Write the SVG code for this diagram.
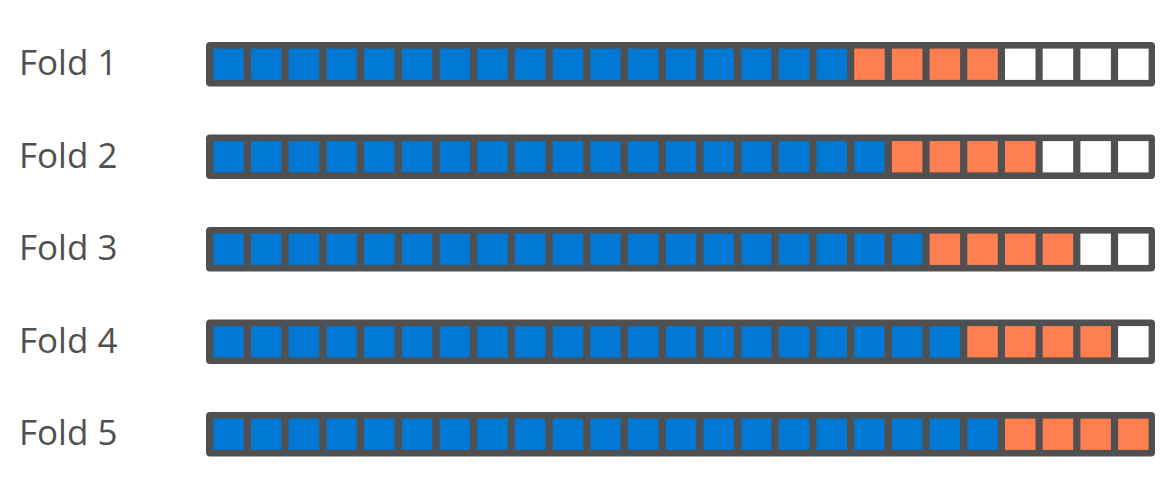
<svg xmlns="http://www.w3.org/2000/svg" width="1169" height="482" viewBox="0 0 1169 482">
<style>
.lbl{font-family:"Open Sans","Noto Sans",sans-serif;font-size:35px;fill:#505050}
.bar{fill:#505050}
.b{fill:#0078D4}
.o{fill:#FF7F50}
.w{fill:#FFFFFF}
.sq rect{y:6.6px;width:30.5px;height:31.3px}
</style>
<rect width="1169" height="482" fill="#fff"/>
<g id="fold1" transform="translate(0,42)">
<text class="lbl" x="19" y="33">Fold 1</text>
<rect class="bar" x="206" y="0" width="949" height="44.5" rx="4"/>
<g class="sq">
<rect class="b" x="213.3" y="6.6" width="30.5" height="31.3"/><rect class="b" x="251" y="6.6" width="30.5" height="31.3"/><rect class="b" x="288.7" y="6.6" width="30.5" height="31.3"/><rect class="b" x="326.4" y="6.6" width="30.5" height="31.3"/><rect class="b" x="364.1" y="6.6" width="30.5" height="31.3"/><rect class="b" x="401.8" y="6.6" width="30.5" height="31.3"/><rect class="b" x="439.5" y="6.6" width="30.5" height="31.3"/><rect class="b" x="477.2" y="6.6" width="30.5" height="31.3"/><rect class="b" x="514.9" y="6.6" width="30.5" height="31.3"/><rect class="b" x="552.6" y="6.6" width="30.5" height="31.3"/><rect class="b" x="590.3" y="6.6" width="30.5" height="31.3"/><rect class="b" x="628" y="6.6" width="30.5" height="31.3"/><rect class="b" x="665.7" y="6.6" width="30.5" height="31.3"/><rect class="b" x="703.4" y="6.6" width="30.5" height="31.3"/><rect class="b" x="741.1" y="6.6" width="30.5" height="31.3"/><rect class="b" x="778.8" y="6.6" width="30.5" height="31.3"/><rect class="b" x="816.5" y="6.6" width="30.5" height="31.3"/>
<rect class="o" x="854.2" y="6.6" width="30.5" height="31.3"/><rect class="o" x="891.9" y="6.6" width="30.5" height="31.3"/><rect class="o" x="929.6" y="6.6" width="30.5" height="31.3"/><rect class="o" x="967.3" y="6.6" width="30.5" height="31.3"/>
<rect class="w" x="1005" y="6.6" width="30.5" height="31.3"/><rect class="w" x="1042.7" y="6.6" width="30.5" height="31.3"/><rect class="w" x="1080.4" y="6.6" width="30.5" height="31.3"/><rect class="w" x="1118.1" y="6.6" width="30.5" height="31.3"/>
</g>
</g>
<g id="fold2" transform="translate(0,134.5)">
<text class="lbl" x="19" y="33">Fold 2</text>
<rect class="bar" x="206" y="0" width="949" height="44.5" rx="4"/>
<g class="sq">
<rect class="b" x="213.3" y="6.6" width="30.5" height="31.3"/><rect class="b" x="251" y="6.6" width="30.5" height="31.3"/><rect class="b" x="288.7" y="6.6" width="30.5" height="31.3"/><rect class="b" x="326.4" y="6.6" width="30.5" height="31.3"/><rect class="b" x="364.1" y="6.6" width="30.5" height="31.3"/><rect class="b" x="401.8" y="6.6" width="30.5" height="31.3"/><rect class="b" x="439.5" y="6.6" width="30.5" height="31.3"/><rect class="b" x="477.2" y="6.6" width="30.5" height="31.3"/><rect class="b" x="514.9" y="6.6" width="30.5" height="31.3"/><rect class="b" x="552.6" y="6.6" width="30.5" height="31.3"/><rect class="b" x="590.3" y="6.6" width="30.5" height="31.3"/><rect class="b" x="628" y="6.6" width="30.5" height="31.3"/><rect class="b" x="665.7" y="6.6" width="30.5" height="31.3"/><rect class="b" x="703.4" y="6.6" width="30.5" height="31.3"/><rect class="b" x="741.1" y="6.6" width="30.5" height="31.3"/><rect class="b" x="778.8" y="6.6" width="30.5" height="31.3"/><rect class="b" x="816.5" y="6.6" width="30.5" height="31.3"/><rect class="b" x="854.2" y="6.6" width="30.5" height="31.3"/>
<rect class="o" x="891.9" y="6.6" width="30.5" height="31.3"/><rect class="o" x="929.6" y="6.6" width="30.5" height="31.3"/><rect class="o" x="967.3" y="6.6" width="30.5" height="31.3"/><rect class="o" x="1005" y="6.6" width="30.5" height="31.3"/>
<rect class="w" x="1042.7" y="6.6" width="30.5" height="31.3"/><rect class="w" x="1080.4" y="6.6" width="30.5" height="31.3"/><rect class="w" x="1118.1" y="6.6" width="30.5" height="31.3"/>
</g>
</g>
<g id="fold3" transform="translate(0,227)">
<text class="lbl" x="19" y="33">Fold 3</text>
<rect class="bar" x="206" y="0" width="949" height="44.5" rx="4"/>
<g class="sq">
<rect class="b" x="213.3" y="6.6" width="30.5" height="31.3"/><rect class="b" x="251" y="6.6" width="30.5" height="31.3"/><rect class="b" x="288.7" y="6.6" width="30.5" height="31.3"/><rect class="b" x="326.4" y="6.6" width="30.5" height="31.3"/><rect class="b" x="364.1" y="6.6" width="30.5" height="31.3"/><rect class="b" x="401.8" y="6.6" width="30.5" height="31.3"/><rect class="b" x="439.5" y="6.6" width="30.5" height="31.3"/><rect class="b" x="477.2" y="6.6" width="30.5" height="31.3"/><rect class="b" x="514.9" y="6.6" width="30.5" height="31.3"/><rect class="b" x="552.6" y="6.6" width="30.5" height="31.3"/><rect class="b" x="590.3" y="6.6" width="30.5" height="31.3"/><rect class="b" x="628" y="6.6" width="30.5" height="31.3"/><rect class="b" x="665.7" y="6.6" width="30.5" height="31.3"/><rect class="b" x="703.4" y="6.6" width="30.5" height="31.3"/><rect class="b" x="741.1" y="6.6" width="30.5" height="31.3"/><rect class="b" x="778.8" y="6.6" width="30.5" height="31.3"/><rect class="b" x="816.5" y="6.6" width="30.5" height="31.3"/><rect class="b" x="854.2" y="6.6" width="30.5" height="31.3"/><rect class="b" x="891.9" y="6.6" width="30.5" height="31.3"/>
<rect class="o" x="929.6" y="6.6" width="30.5" height="31.3"/><rect class="o" x="967.3" y="6.6" width="30.5" height="31.3"/><rect class="o" x="1005" y="6.6" width="30.5" height="31.3"/><rect class="o" x="1042.7" y="6.6" width="30.5" height="31.3"/>
<rect class="w" x="1080.4" y="6.6" width="30.5" height="31.3"/><rect class="w" x="1118.1" y="6.6" width="30.5" height="31.3"/>
</g>
</g>
<g id="fold4" transform="translate(0,319.5)">
<text class="lbl" x="19" y="33">Fold 4</text>
<rect class="bar" x="206" y="0" width="949" height="44.5" rx="4"/>
<g class="sq">
<rect class="b" x="213.3" y="6.6" width="30.5" height="31.3"/><rect class="b" x="251" y="6.6" width="30.5" height="31.3"/><rect class="b" x="288.7" y="6.6" width="30.5" height="31.3"/><rect class="b" x="326.4" y="6.6" width="30.5" height="31.3"/><rect class="b" x="364.1" y="6.6" width="30.5" height="31.3"/><rect class="b" x="401.8" y="6.6" width="30.5" height="31.3"/><rect class="b" x="439.5" y="6.6" width="30.5" height="31.3"/><rect class="b" x="477.2" y="6.6" width="30.5" height="31.3"/><rect class="b" x="514.9" y="6.6" width="30.5" height="31.3"/><rect class="b" x="552.6" y="6.6" width="30.5" height="31.3"/><rect class="b" x="590.3" y="6.6" width="30.5" height="31.3"/><rect class="b" x="628" y="6.6" width="30.5" height="31.3"/><rect class="b" x="665.7" y="6.6" width="30.5" height="31.3"/><rect class="b" x="703.4" y="6.6" width="30.5" height="31.3"/><rect class="b" x="741.1" y="6.6" width="30.5" height="31.3"/><rect class="b" x="778.8" y="6.6" width="30.5" height="31.3"/><rect class="b" x="816.5" y="6.6" width="30.5" height="31.3"/><rect class="b" x="854.2" y="6.6" width="30.5" height="31.3"/><rect class="b" x="891.9" y="6.6" width="30.5" height="31.3"/><rect class="b" x="929.6" y="6.6" width="30.5" height="31.3"/>
<rect class="o" x="967.3" y="6.6" width="30.5" height="31.3"/><rect class="o" x="1005" y="6.6" width="30.5" height="31.3"/><rect class="o" x="1042.7" y="6.6" width="30.5" height="31.3"/><rect class="o" x="1080.4" y="6.6" width="30.5" height="31.3"/>
<rect class="w" x="1118.1" y="6.6" width="30.5" height="31.3"/>
</g>
</g>
<g id="fold5" transform="translate(0,412)">
<text class="lbl" x="19" y="33">Fold 5</text>
<rect class="bar" x="206" y="0" width="949" height="44.5" rx="4"/>
<g class="sq">
<rect class="b" x="213.3" y="6.6" width="30.5" height="31.3"/><rect class="b" x="251" y="6.6" width="30.5" height="31.3"/><rect class="b" x="288.7" y="6.6" width="30.5" height="31.3"/><rect class="b" x="326.4" y="6.6" width="30.5" height="31.3"/><rect class="b" x="364.1" y="6.6" width="30.5" height="31.3"/><rect class="b" x="401.8" y="6.6" width="30.5" height="31.3"/><rect class="b" x="439.5" y="6.6" width="30.5" height="31.3"/><rect class="b" x="477.2" y="6.6" width="30.5" height="31.3"/><rect class="b" x="514.9" y="6.6" width="30.5" height="31.3"/><rect class="b" x="552.6" y="6.6" width="30.5" height="31.3"/><rect class="b" x="590.3" y="6.6" width="30.5" height="31.3"/><rect class="b" x="628" y="6.6" width="30.5" height="31.3"/><rect class="b" x="665.7" y="6.6" width="30.5" height="31.3"/><rect class="b" x="703.4" y="6.6" width="30.5" height="31.3"/><rect class="b" x="741.1" y="6.6" width="30.5" height="31.3"/><rect class="b" x="778.8" y="6.6" width="30.5" height="31.3"/><rect class="b" x="816.5" y="6.6" width="30.5" height="31.3"/><rect class="b" x="854.2" y="6.6" width="30.5" height="31.3"/><rect class="b" x="891.9" y="6.6" width="30.5" height="31.3"/><rect class="b" x="929.6" y="6.6" width="30.5" height="31.3"/><rect class="b" x="967.3" y="6.6" width="30.5" height="31.3"/>
<rect class="o" x="1005" y="6.6" width="30.5" height="31.3"/><rect class="o" x="1042.7" y="6.6" width="30.5" height="31.3"/><rect class="o" x="1080.4" y="6.6" width="30.5" height="31.3"/><rect class="o" x="1118.1" y="6.6" width="30.5" height="31.3"/>
</g>
</g>
</svg>
